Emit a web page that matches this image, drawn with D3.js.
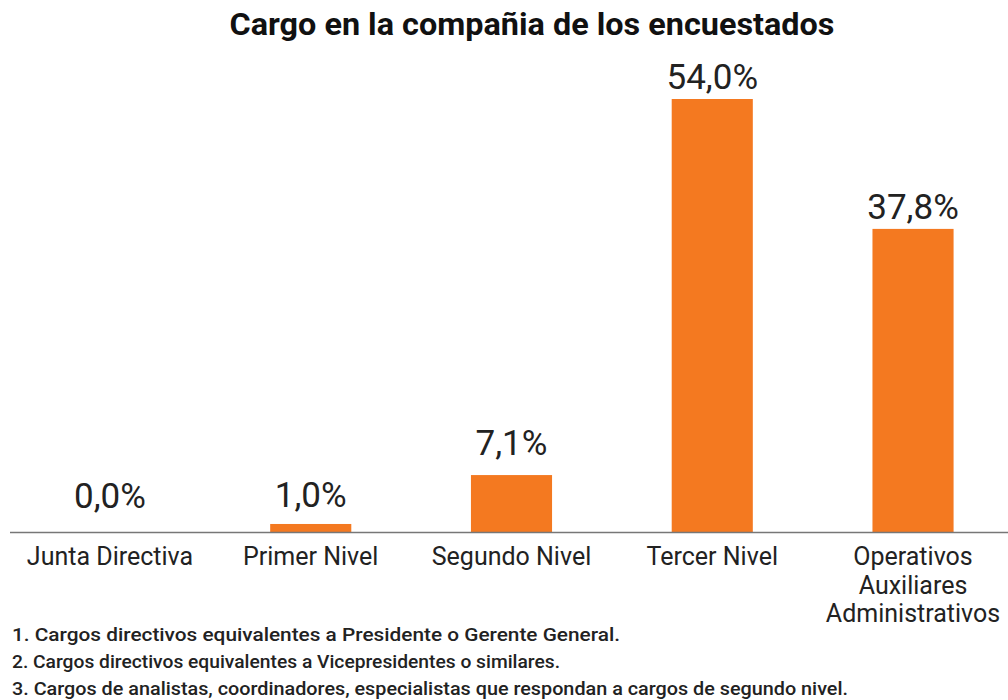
<!DOCTYPE html>
<html>
<head>
<meta charset="utf-8">
<script src="https://cdn.jsdelivr.net/npm/d3@7"></script>
<style>
  body { margin: 0; background: #fff; }
  svg { display: block; }
</style>
</head>
<body>
<script>
/* --------------------------------- data --------------------------------- */
const categories = ["Junta Directiva", "Primer Nivel", "Segundo Nivel", "Tercer Nivel", "Operativos\nAuxiliares\nAdministrativos"]
const values = [0.0, 1.0, 7.1, 54.0, 37.8]
const notes = [
  "1. Cargos directivos equivalentes a Presidente o Gerente General.",
  "2. Cargos directivos equivalentes a Vicepresidentes o similares.",
  "3. Cargos de analistas, coordinadores, especialistas que respondan a cargos de segundo nivel."
]
const title = "Cargo en la compañia de los encuestados"

/* ------------------------------- document size ---------------------------- */
const width = 1008, height = 700, baseY = 532
// gap between bar top and its label, as drawn in the original
const labelGap = [24, 17, 20, 10, 10]

const svg = d3.select("body").append("svg")
    .attr("width", width)
    .attr("height", height)

const x = d3.scaleBand()
    .domain(categories)
    .range([9.6, 1013.4])
    .paddingInner(0.596)
    .paddingOuter(0.298)

const y = d3.scaleLinear()
    .domain([0, 54])
    .range([baseY, 99])

const fmt = v => v.toFixed(1).replace(".", ",") + "%"

/* --------------------------------- title --------------------------------- */
svg.append("text")
    .attr("x", 532).attr("y", 35)
    .attr("text-anchor", "middle")
    .attr("font-family", "Roboto")
    .attr("font-weight", "bold")
    .attr("font-size", 32)
    .attr("textLength", 605)
    .attr("lengthAdjust", "spacingAndGlyphs")
    .attr("fill", "#111")
    .text(title)

/* --------------------------------- bars ---------------------------------- */
svg.selectAll(".bar").data(values).enter().append("rect")
    .attr("class", "bar")
    .attr("x", (d, i) => x(categories[i]))
    .attr("width", x.bandwidth())
    .attr("y", d => y(d))
    .attr("height", d => baseY - y(d))
    .attr("fill", "#f47920")

svg.selectAll(".val").data(values).enter().append("text")
    .attr("class", "val")
    .attr("x", (d, i) => x(categories[i]) + x.bandwidth() / 2)
    .attr("y", (d, i) => y(d) - labelGap[i])
    .attr("text-anchor", "middle")
    .attr("font-family", "Roboto")
    .attr("font-size", 35)
    .attr("fill", "#222")
    .text(fmt)

/* --------------------------------- axis ---------------------------------- */
svg.append("line")
    .attr("x1", 10).attr("x2", width)
    .attr("y1", baseY + 0.5).attr("y2", baseY + 0.5)
    .attr("stroke", "#777")
    .attr("stroke-width", 1.5)

const cat = svg.selectAll(".cat").data(categories).enter().append("text")
    .attr("class", "cat")
    .attr("x", d => x(d) + x.bandwidth() / 2)
    .attr("y", 565)
    .attr("text-anchor", "middle")
    .attr("font-family", "Roboto")
    .attr("font-size", 25)
    .attr("fill", "#222")

cat.selectAll("tspan").data(d => d.split("\n")).enter().append("tspan")
    .attr("x", function() { return this.parentNode.getAttribute("x") })
    .attr("dy", (d, i) => i ? 28.5 : 0)
    .text(d => d)

/* -------------------------------- footnotes ------------------------------ */
const noteLen = [608, 548, 836]
svg.selectAll(".note").data(notes).enter().append("text")
    .attr("class", "note")
    .attr("x", 12)
    .attr("y", (d, i) => 641 + i * 27)
    .attr("font-family", "Roboto")
    .attr("font-weight", 500)
    .attr("font-size", 18.5)
    .attr("textLength", (d, i) => noteLen[i])
    .attr("lengthAdjust", "spacingAndGlyphs")
    .attr("fill", "#222")
    .text(d => d)
</script>
</body>
</html>
